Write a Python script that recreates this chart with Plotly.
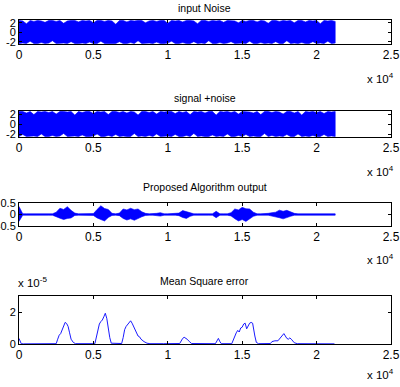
import numpy as np
import plotly.graph_objects as go

# ---------------- data ----------------
titles = ["input Noise", "signal +noise", "Proposed Algorithm output", "Mean Square error"]
x_tick_vals = [0, 5000, 10000, 15000, 20000, 25000]
x_tick_text = ["0", "0.5", "1", "1.5", "2", "2.5"]

# envelope (max / min per block of 250 samples) of the input noise
noise_hi = [2.5, 2.4, 1.8, 2.5, 2.3, 2.5, 2.4, 2.1, 2.5, 2.5, 2.3, 2.5, 1.9, 2.4, 2.5, 2.5,
            2.2, 2.5, 2.4, 2.5, 2.0, 2.5, 2.5, 2.3, 2.5, 2.4, 1.7, 2.5, 2.5, 2.2, 2.5, 2.4,
            2.5, 2.5, 2.0, 2.4, 2.5, 2.3, 2.5, 2.5, 1.9, 2.5, 2.4, 2.5, 2.2, 2.5, 2.5, 2.4,
            1.8, 2.5, 2.5, 2.3, 2.5, 2.4, 2.5, 2.1, 2.5, 2.5, 2.4, 2.0, 2.5, 2.3, 2.5, 2.5,
            2.2, 2.5, 2.4, 1.9, 2.5, 2.5, 2.3, 2.5, 2.4, 2.5, 2.0, 2.5, 2.5, 2.2, 2.5, 2.4,
            2.5, 1.8, 2.5, 2.4, 2.5, 2.3]
noise_lo = [-2.4, -2.3, -2.4, -1.9, -2.4, -2.4, -2.2, -2.4, -2.3, -1.8, -2.4, -2.4, -2.3,
            -2.4, -2.0, -2.4, -2.4, -2.3, -2.4, -2.1, -2.4, -2.4, -1.9, -2.4, -2.3, -2.4,
            -2.4, -2.0, -2.4, -2.4, -2.2, -2.4, -1.8, -2.4, -2.4, -2.3, -2.4, -2.1, -2.4,
            -2.4, -2.3, -1.9, -2.4, -2.4, -2.2, -2.4, -2.4, -2.0, -2.4, -2.3, -2.4, -1.8,
            -2.4, -2.4, -2.2, -2.4, -2.3, -2.0, -2.4, -2.4, -2.3, -2.4, -1.9, -2.4, -2.4,
            -2.2, -2.4, -2.3, -2.4, -2.0, -2.4, -2.4, -1.8, -2.4, -2.3, -2.4, -2.2, -2.4,
            -2.4, -2.0, -2.4, -2.3, -2.4, -1.9, -2.4, -2.3]
# envelope of signal + noise
sn_hi = [2.5, 2.5, 2.2, 2.5, 1.9, 2.5, 2.4, 2.5, 2.3, 2.5, 2.0, 2.5, 2.5, 2.4, 2.5, 1.8,
         2.5, 2.3, 2.5, 2.5, 2.1, 2.5, 2.4, 2.5, 1.9, 2.5, 2.5, 2.3, 2.5, 2.2, 2.5, 2.4,
         1.8, 2.5, 2.5, 2.3, 2.5, 2.0, 2.5, 2.4, 2.5, 2.5, 2.1, 2.5, 2.3, 2.5, 1.9, 2.5,
         2.4, 2.5, 2.2, 2.5, 2.5, 1.8, 2.5, 2.4, 2.5, 2.3, 2.5, 2.0, 2.5, 2.5, 2.4, 2.2,
         2.5, 1.9, 2.5, 2.5, 2.3, 2.5, 2.4, 2.0, 2.5, 2.5, 2.2, 2.5, 1.8, 2.5, 2.4, 2.5,
         2.3, 2.5, 2.1, 2.5, 2.4, 2.5]
sn_lo = [-2.4, -2.0, -2.4, -2.4, -2.3, -2.4, -1.9, -2.4, -2.4, -2.2, -2.4, -2.3, -1.8,
         -2.4, -2.4, -2.3, -2.4, -2.1, -2.4, -2.4, -2.3, -1.9, -2.4, -2.4, -2.2, -2.4,
         -2.0, -2.4, -2.3, -2.4, -2.4, -1.8, -2.4, -2.3, -2.4, -2.2, -2.4, -1.9, -2.4,
         -2.4, -2.3, -2.4, -2.0, -2.4, -2.4, -2.2, -2.4, -1.8, -2.4, -2.3, -2.4, -2.4,
         -2.1, -2.4, -2.3, -2.4, -1.9, -2.4, -2.4, -2.2, -2.4, -2.0, -2.4, -2.3, -2.4,
         -2.4, -1.8, -2.4, -2.2, -2.4, -2.3, -2.4, -2.0, -2.4, -2.4, -1.9, -2.4, -2.3,
         -2.4, -2.2, -2.4, -2.4, -2.0, -2.4, -2.3, -2.4]
# envelope of the algorithm output (blocks of 250 samples)
out_hi = [0.35] + [0.03] * 9 + [0.10, 0.27, 0.22, 0.34, 0.18, 0.06] + [0.03] * 4 + \
         [0.04, 0.22, 0.38, 0.26, 0.22, 0.05] + [0.03] + \
         [0.06, 0.24, 0.20, 0.27, 0.21, 0.24, 0.12, 0.05] + [0.03] * 2 + [0.05, 0.08] + \
         [0.03] * 4 + [0.06, 0.17, 0.12, 0.10] + [0.03] * 6 + [0.14] + [0.03] * 3 + \
         [0.08, 0.24, 0.20, 0.31, 0.25, 0.24, 0.10] + [0.03] * 3 + \
         [0.05, 0.08, 0.10, 0.19, 0.14, 0.18, 0.10, 0.05] + [0.03] * 11
out_lo = [-0.30] + [-0.03] * 9 + [-0.08, -0.16, -0.22, -0.17, -0.15, -0.04] + [-0.03] * 4 + \
         [-0.04, -0.15, -0.22, -0.28, -0.13, -0.04] + [-0.03] + \
         [-0.05, -0.17, -0.24, -0.19, -0.25, -0.16, -0.10, -0.04] + [-0.03] * 2 + [-0.04, -0.07] + \
         [-0.03] * 4 + [-0.05, -0.13, -0.17, -0.08] + [-0.03] * 6 + [-0.14] + [-0.03] * 3 + \
         [-0.06, -0.18, -0.28, -0.22, -0.30, -0.18, -0.08] + [-0.03] * 3 + \
         [-0.03, -0.07, -0.09, -0.14, -0.19, -0.13, -0.08, -0.03] + [-0.03] * 11
# mean square error (x 1e-5)
mse_x = [0, 150, 300, 2500, 2600, 2700, 2800, 2900, 3000, 3100, 3200, 3300, 3400, 3500, 3650, 3800,
         5100, 5200, 5300, 5400, 5500, 5600, 5700, 5800, 5900, 6000, 6100, 6200,
         6900, 7000, 7100, 7200, 7300, 7400, 7500, 7600, 7700, 7800, 7900, 8000, 8100, 8200, 8400, 8600, 8800,
         9300, 9500, 9700,
         10800, 10900, 11000, 11100, 11200, 11300, 11450, 11600,
         13200, 13300, 13400, 13500, 13600,
         14300, 14400, 14500, 14600, 14700, 14800, 14900, 15000, 15100, 15200, 15300, 15400, 15500,
         15600, 15700, 15850, 15950, 16100,
         16900, 17000, 17200, 17400, 17600, 17800, 17900, 18000, 18100, 18200, 18300, 18500, 18700, 21200]
mse_y = [0.35, 0.02, 0.01, 0.02, 0.3, 0.55, 0.65, 0.9, 1.2, 1.35, 1.28, 1.1, 0.7, 0.3, 0.1, 0.02,
         0.02, 0.4, 0.9, 1.25, 1.4, 1.5, 1.7, 1.92, 1.6, 0.9, 0.4, 0.05,
         0.03, 0.4, 0.9, 1.1, 1.2, 1.35, 1.45, 1.3, 1.1, 0.9, 0.7, 0.5, 0.45, 0.3, 0.15, 0.05, 0.02,
         0.03, 0.06, 0.02,
         0.03, 0.2, 0.35, 0.42, 0.38, 0.3, 0.15, 0.03,
         0.02, 0.2, 0.35, 0.15, 0.02,
         0.02, 0.25, 0.55, 0.7, 0.85, 0.75, 1.0, 1.05, 1.25, 1.3, 0.95, 1.15, 1.3,
         1.35, 1.3, 0.5, 0.1, 0.02,
         0.03, 0.15, 0.2, 0.2, 0.4, 0.65, 0.5, 0.35, 0.3, 0.38, 0.3, 0.08, 0.02, 0.01]

# sample positions of the envelope blocks
noise_x = list(np.linspace(0, 21250, len(noise_hi)))
sn_x = list(np.linspace(0, 21250, len(sn_hi)))
out_x = list(np.linspace(0, 21250, len(out_hi)))

# ---------------- figure ----------------
BLUE = "#0000FF"
FONT = "Liberation Sans, Arial, sans-serif"
W, H = 400, 387

def band(x, hi, lo, xa, ya):
    return go.Scatter(x=x + x[::-1], y=hi + lo[::-1], fill="toself", fillcolor=BLUE,
                      mode="lines", line=dict(color=BLUE, width=0.6),
                      xaxis=xa, yaxis=ya, hoverinfo="skip", showlegend=False)

fig = go.Figure()
fig.add_trace(band(noise_x, noise_hi, noise_lo, "x", "y"))
fig.add_trace(band(sn_x, sn_hi, sn_lo, "x2", "y2"))
fig.add_trace(band(out_x, out_hi, out_lo, "x3", "y3"))
fig.add_trace(go.Scatter(x=mse_x, y=mse_y, mode="lines", line=dict(color=BLUE, width=0.9),
                         xaxis="x4", yaxis="y4", showlegend=False))

# panel pixel boxes (top, bottom)
boxes = [(20, 44), (111, 137), (203, 226), (296, 344)]
xl, xr = 19, 391
yranges = [[-2.5, 2.6], [-2.5, 2.6], [-0.5, 0.5], [0, 3.0]]
yticks = [[-2, 0, 2], [-2, 0, 2], [-0.5, 0, 0.5], [0, 2]]
ytext = [["-2", "0", "2"], ["-2", "0", "2"], ["-0.5", "0", "0.5"], ["0", "2"]]

axis_common = dict(showline=True, linecolor="black", linewidth=1, mirror="ticks",
                   ticks="inside", ticklen=3, tickcolor="black", showgrid=False,
                   zeroline=False, automargin=False, ticklabeloverflow="allow",
                   tickfont=dict(family=FONT, size=12, color="black"))

layout = dict(width=W, height=H, margin=dict(l=0, r=0, t=0, b=0, pad=0, autoexpand=False),
              paper_bgcolor="white", plot_bgcolor="white", showlegend=False,
              font=dict(family=FONT, color="black"))
for i, (top, bot) in enumerate(boxes):
    n = "" if i == 0 else str(i + 1)
    layout["xaxis" + n] = dict(axis_common, domain=[xl / W, xr / W], range=[0, 25000],
                               tickvals=x_tick_vals, ticktext=x_tick_text,
                               anchor="y" + n)
    layout["yaxis" + n] = dict(axis_common, domain=[1 - bot / H, 1 - top / H],
                               range=yranges[i], tickvals=yticks[i], ticktext=ytext[i],
                               anchor="x" + n, ticklabelstandoff=0,
                               tickfont=dict(family=FONT, size=11, color="black"))

fig.update_layout(**layout)

title_y = [8, 98, 187, 281]
mult_y = [78, 171, 259, 374]
ann = []
for i in range(4):
    ann.append(dict(text=titles[i], x=(xl + xr) / 2 / W, y=1 - title_y[i] / H,
                    xref="paper", yref="paper", showarrow=False,
                    xanchor="center", yanchor="middle",
                    font=dict(family=FONT, size=10.5, color="black")))
    ann.append(dict(text="x 10<sup>4</sup>", x=396 / W, y=1 - mult_y[i] / H,
                    xref="paper", yref="paper", showarrow=False,
                    xanchor="right", yanchor="middle",
                    font=dict(family=FONT, size=11.5, color="black")))
ann.append(dict(text="x 10<sup>-5</sup>", x=16 / W, y=1 - 282 / H,
                xref="paper", yref="paper", showarrow=False,
                xanchor="left", yanchor="middle",
                font=dict(family=FONT, size=11.5, color="black")))
fig.update_layout(annotations=ann)

# remove the browser's default 8px page margin so the 400x387 figure fills the window
fig.write_html("out.html", config={"displayModeBar": False},
               post_script="document.body.style.margin='0';document.body.style.overflow='hidden';")
